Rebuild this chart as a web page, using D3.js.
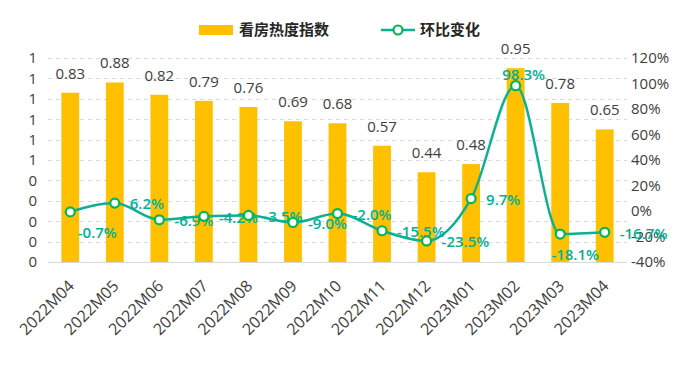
<!DOCTYPE html>
<html><head><meta charset="utf-8">
<script src="https://cdn.jsdelivr.net/npm/d3@7"></script>
<style>
body{margin:0;background:#fff}
svg{display:block}
text{font-family:"Open Sans","Noto Sans CJK SC",sans-serif}
</style>
</head><body>
<svg id="c" width="690" height="369"></svg>
<script>
// ---- data ----
const categories = ["2022M04","2022M05","2022M06","2022M07","2022M08","2022M09","2022M10","2022M11","2022M12","2023M01","2023M02","2023M03","2023M04"];
const heatIndex = [0.83,0.88,0.82,0.79,0.76,0.69,0.68,0.57,0.44,0.48,0.95,0.78,0.65];
const momChange = [-0.7,6.2,-6.9,-4.2,-3.5,-9.0,-2.0,-15.5,-23.5,9.7,98.3,-18.1,-16.7];
const leftTickValues = [0,0.1,0.2,0.3,0.4,0.5,0.6,0.7,0.8,0.9,1.0];
const leftTickLabels = ["0","0","0","0","0","1","1","1","1","1","1"];
const rightTickValues = [-40,-20,0,20,40,60,80,100,120];
const rightTickLabels = ["-40%","-20%","0%","20%","40%","60%","80%","100%","120%"];
const seriesNames = ["看房热度指数","环比变化"];

// ---- drawing ----
const svg = d3.select("#c");
const plotL = 48, plotR = 627, plotT = 58, plotB = 262;
const barColor = "#FFC000", lineColor = "#0DB093", markColor = "#00B853", pctColor = "#00B096", txt = "#404040";

const x = d3.scaleBand().domain(categories).range([plotL, plotR]).paddingInner(0.6).paddingOuter(0.3);
const yL = d3.scaleLinear().domain([0, 1]).range([plotB, plotT]);
const yR = d3.scaleLinear().domain([-40, 120]).range([plotB, plotT]);
const cx = d => x(d) + x.bandwidth() / 2;

// grid
svg.append("g").selectAll("line").data(leftTickValues).join("line")
  .attr("x1", plotL).attr("x2", plotR)
  .attr("y1", d => Math.round(yL(d)) + 0.5).attr("y2", d => Math.round(yL(d)) + 0.5)
  .attr("stroke", "#D9D9D9").attr("stroke-width", 1)
  .attr("stroke-dasharray", d => d === 0 ? null : "4,4");

// left axis
const axL = svg.append("g").attr("transform", `translate(${plotL},0)`)
  .call(d3.axisLeft(yL).tickValues(leftTickValues).tickFormat((d, i) => leftTickLabels[i]).tickSize(0).tickPadding(11));
axL.select(".domain").remove();
axL.selectAll("text").attr("fill", txt).style("font-size", "15px");

// right axis
const axR = svg.append("g").attr("transform", `translate(${plotR},0)`)
  .call(d3.axisRight(yR).tickValues(rightTickValues).tickFormat((d, i) => rightTickLabels[i]).tickSize(0).tickPadding(4));
axR.select(".domain").remove();
axR.selectAll("text").attr("fill", txt).style("font-size", "15px");

// x axis
const axX = svg.append("g").attr("transform", `translate(0,${plotB})`)
  .call(d3.axisBottom(x).tickSize(0).tickPadding(0));
axX.select(".domain").remove();
axX.selectAll("text").attr("fill", txt).style("font-size", "16px")
  .attr("text-anchor", "end").attr("dy", null).attr("y", 0)
  .attr("transform", "translate(5,25) rotate(-45)");

// bars
svg.append("g").selectAll("rect").data(heatIndex).join("rect")
  .attr("x", (d, i) => x(categories[i])).attr("width", x.bandwidth())
  .attr("y", d => yL(d)).attr("height", d => yL(0) - yL(d))
  .attr("fill", barColor);

// bar labels
svg.append("g").selectAll("text").data(heatIndex).join("text")
  .attr("x", (d, i) => cx(categories[i])).attr("y", d => yL(d) - 14)
  .attr("text-anchor", "middle").attr("fill", txt).style("font-size", "15px")
  .text(d => d.toFixed(2));

// line
const line = d3.line().x((d, i) => cx(categories[i])).y(d => yR(d)).curve(d3.curveMonotoneX);
svg.append("path").datum(momChange).attr("d", line)
  .attr("fill", "none").attr("stroke", lineColor).attr("stroke-width", 2.5);

// percent labels
const pctPlace = (i) => {
  if (i === 0) return {dx: 27, dy: 21, a: "middle"};
  if (i === 10) return {dx: 8, dy: -11, a: "middle"};
  if (i === 11) return {dx: 15, dy: 21, a: "middle"};
  return {dx: 15, dy: 1, a: "start"};
};
svg.append("g").selectAll("text").data(momChange).join("text")
  .attr("x", (d, i) => cx(categories[i]) + pctPlace(i).dx)
  .attr("y", (d, i) => yR(d) + pctPlace(i).dy)
  .attr("dy", "0.35em")
  .attr("text-anchor", (d, i) => pctPlace(i).a)
  .attr("fill", pctColor).style("font-size", "15px").style("font-weight", "600")
  .text(d => d.toFixed(1) + "%");

// markers
svg.append("g").selectAll("circle").data(momChange).join("circle")
  .attr("cx", (d, i) => cx(categories[i])).attr("cy", d => yR(d)).attr("r", 4.5)
  .attr("fill", "#fff").attr("stroke", markColor).attr("stroke-width", 2.2);

// legend
const lg = svg.append("g");
lg.append("rect").attr("x", 199).attr("y", 25).attr("width", 34).attr("height", 10).attr("fill", barColor);
lg.append("text").attr("x", 239).attr("y", 30).attr("dy", "0.35em").attr("fill", "#262626")
  .style("font-size", "15px").style("font-weight", "700").text(seriesNames[0]);
lg.append("line").attr("x1", 381).attr("x2", 415).attr("y1", 30).attr("y2", 30)
  .attr("stroke", lineColor).attr("stroke-width", 2.5);
lg.append("circle").attr("cx", 398).attr("cy", 30).attr("r", 4.5)
  .attr("fill", "#fff").attr("stroke", markColor).attr("stroke-width", 2.2);
lg.append("text").attr("x", 420).attr("y", 30).attr("dy", "0.35em").attr("fill", "#262626")
  .style("font-size", "15px").style("font-weight", "700").text(seriesNames[1]);
</script>
</body></html>
